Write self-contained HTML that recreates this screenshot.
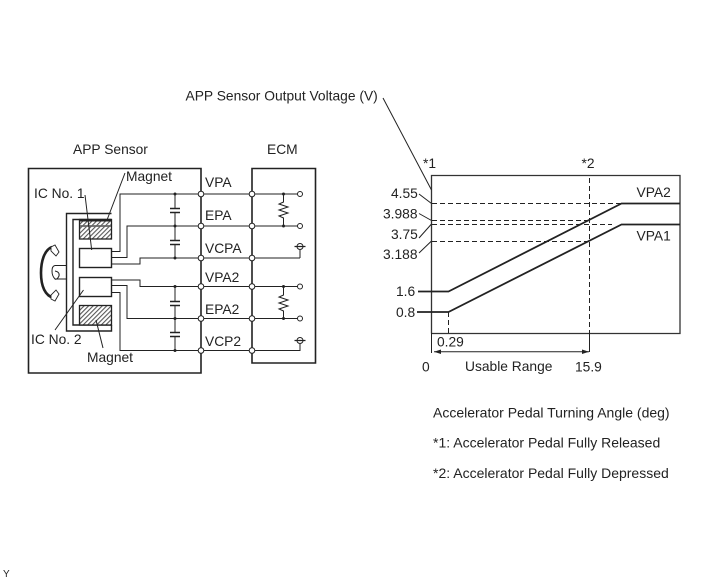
<!DOCTYPE html>
<html><head><meta charset="utf-8"><style>
html,body{margin:0;padding:0;background:#fff}
svg{display:block}
text{font-family:"Liberation Sans",sans-serif;font-size:13.8px;fill:#222}
.b{font-size:14px}
</style></head><body>
<svg width="713" height="581" viewBox="0 0 713 581" xmlns="http://www.w3.org/2000/svg">
<defs><pattern id="h" width="3.2" height="3.2" patternUnits="userSpaceOnUse" patternTransform="rotate(-45)"><rect width="3.2" height="3.2" fill="#fff"/><rect width="3.2" height="1.1" fill="#555"/></pattern></defs>
<g fill="none" stroke="#222" stroke-width="1">
<path d="M201 168.500H28.500V373H201Z" stroke-width="1.600"/>
<path d="M252 168.500H315.500V363H252Z" stroke-width="1.600"/>
<path d="M111.500 213.500H66.500V331H111.500V325" stroke-width="1.400"/>
<path d="M111.500 219.500H73V325H111.500" stroke-width="1.400"/>
<rect x="79.500" y="219.500" width="32" height="19.500" fill="url(#h)" stroke-width="1.300"/>
<path d="M79.500 220.500H111.500" stroke-width="2"/>
<path d="M80 226H111" stroke="#666" stroke-width="1.800"/>
<rect x="79.500" y="305.500" width="32" height="19.500" fill="url(#h)" stroke-width="1.300"/>
<rect x="79.500" y="248.500" width="32" height="19" fill="#fff" stroke-width="1.400"/>
<rect x="79.500" y="277.500" width="32" height="19" fill="#fff" stroke-width="1.400"/>
<path d="M111.500 251.500H120V194H299"/>
<path d="M111.500 257.500H127V226H299"/>
<path d="M111.500 264H140V258H300"/>
<path d="M111.500 280H140V286.500H299"/>
<path d="M111.500 285.500H127V318.500H299"/>
<path d="M111.500 292.500H120V350.500H300V344"/>
<path d="M300 258V250"/>
<path d="M175 194V208M175 212V240M175 245V258M175 287V301M175 305V333M175 337V351"/>
<path d="M170 208.500H180M170 212.500H180M170 240.500H180M170 244.500H180M170 301.500H180M170 305.500H180M170 332.500H180M170 336.500H180" stroke-width="1.400"/>
<path d="M283.500 194V202L279 204L288 207L279 210L288 213L279 216L283.500 218V226"/>
<path d="M283.500 287V295L279 297L288 300L279 303L288 306L279 309L283.500 311V319"/>
<path d="M431.500 333.500V175.500H680V333.500H431.500" stroke="#333" stroke-width="1.300"/>
<path d="M431.500 333V353"/>
<path d="M589.500 333V352M434 351.700H589"/>
<path d="M432 203.500H621M432 220.500H589M432 224.500H612M432 241.500H589M589.500 178V333M448.500 312V333" stroke-dasharray="5 3"/>
<path d="M418 291.500H448.500L621.500 203.500H680" stroke-width="1.800"/>
<path d="M417 312H448.500L621.500 224.500H680" stroke-width="1.800"/>
<path d="M419 194L431.500 203.500M419 213.500L431.500 220.500M419 238L431.500 224M419 253L431.500 241"/>
<path d="M383 98L431.500 190"/>
<path d="M125 173L107 220M85 195L91.700 250M55 330L83.500 290M103 348L96 320"/>
<path d="M66.500 265.500H55Q52 266 52 271Q52 276 55 279H66.500M55 271Q60 272 59 276Q57 280 55 279"/>
<path d="M52 247C44 250 41 262 41 273C41 286 45 296 54 298" stroke-width="2.600"/>
<path d="M51 247L55 245L59 252L56 256L51 251ZM51 299L55 301L59 294L56 290L51 295Z" fill="#fff" stroke-width="0.900"/>
</g>
<path d="M434 351.700L441 349.500V354Z" fill="#222"/>
<path d="M589 351.700L582 349.500V354Z" fill="#222"/>
<g fill="#222">
<circle cx="175" cy="194" r="1.500"/><circle cx="175" cy="226" r="1.500"/><circle cx="175" cy="258" r="1.500"/>
<circle cx="175" cy="286.500" r="1.500"/><circle cx="175" cy="318.500" r="1.500"/><circle cx="175" cy="350.500" r="1.500"/>
<circle cx="283.500" cy="194" r="1.500"/><circle cx="283.500" cy="226" r="1.500"/><circle cx="283.500" cy="286.500" r="1.500"/><circle cx="283.500" cy="318.500" r="1.500"/>
</g>
<g fill="#fff" stroke="#222" stroke-width="1">
<circle cx="201" cy="194" r="2.800"/><circle cx="201" cy="226" r="2.800"/><circle cx="201" cy="258" r="2.800"/>
<circle cx="201" cy="286.500" r="2.800"/><circle cx="201" cy="318.500" r="2.800"/><circle cx="201" cy="350.500" r="2.800"/>
<circle cx="252" cy="194" r="2.800"/><circle cx="252" cy="226" r="2.800"/><circle cx="252" cy="258" r="2.800"/>
<circle cx="252" cy="286.500" r="2.800"/><circle cx="252" cy="318.500" r="2.800"/><circle cx="252" cy="350.500" r="2.800"/>
<circle cx="300" cy="194" r="2.500"/><circle cx="300" cy="226" r="2.500"/><circle cx="300" cy="286.500" r="2.500"/><circle cx="300" cy="318.500" r="2.500"/>
<circle cx="300" cy="246.500" r="3"/><circle cx="300" cy="340.500" r="3"/>
</g>
<path d="M294.500 246.500H305.500M294.500 340.500H305.500" stroke="#222" stroke-width="1.300"/>
<text x="73" y="154">APP Sensor</text>
<text x="267" y="154">ECM</text>
<text x="126" y="181">Magnet</text>
<text x="34" y="198">IC No. 1</text>
<text x="31" y="344">IC No. 2</text>
<text x="87" y="362">Magnet</text>
<text x="205" y="187">VPA</text>
<text x="205" y="220">EPA</text>
<text x="205" y="253">VCPA</text>
<text x="205" y="282">VPA2</text>
<text x="205" y="314">EPA2</text>
<text x="205" y="346">VCP2</text>
<text x="185.500" y="100.500">APP Sensor Output Voltage (V)</text>
<text x="423" y="168">*1</text>
<text x="581.500" y="168">*2</text>
<text x="391" y="198">4.55</text>
<text x="383" y="218.500">3.988</text>
<text x="391" y="239">3.75</text>
<text x="383" y="259">3.188</text>
<text x="396" y="296">1.6</text>
<text x="396" y="317">0.8</text>
<text x="437" y="346.500">0.29</text>
<text x="422" y="371.500">0</text>
<text x="465" y="371">Usable Range</text>
<text x="575" y="371.500">15.9</text>
<text x="636.500" y="197">VPA2</text>
<text x="636.500" y="240.500">VPA1</text>
<text class="b" x="433" y="417.500">Accelerator Pedal Turning Angle (deg)</text>
<text class="b" x="433" y="447.500">*1: Accelerator Pedal Fully Released</text>
<text class="b" x="433" y="478">*2: Accelerator Pedal Fully Depressed</text>
<text x="3" y="577" style="font-size:10px">Y</text>
</svg>
</body></html>
